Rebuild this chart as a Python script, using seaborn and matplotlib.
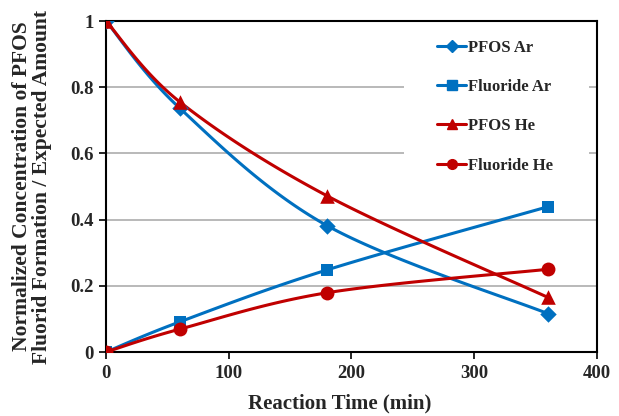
import numpy as np
import pandas as pd
import seaborn as sns
import matplotlib.pyplot as plt
from matplotlib.lines import Line2D
from matplotlib.patches import Rectangle
from matplotlib.ticker import FuncFormatter

# data
time_min = [0, 60, 180, 360]
pfos_ar = [1.0, 0.737, 0.382, 0.116]
fluoride_ar = [0.0, 0.091, 0.248, 0.439]
pfos_he = [1.0, 0.756, 0.472, 0.165]
fluoride_he = [0.0, 0.069, 0.179, 0.25]

series_names = ["PFOS Ar", "Fluoride Ar", "PFOS He", "Fluoride He"]
series_values = [pfos_ar, fluoride_ar, pfos_he, fluoride_he]

BLUE = "#0070C0"
RED = "#C00000"
colors = {"PFOS Ar": BLUE, "Fluoride Ar": BLUE, "PFOS He": RED, "Fluoride He": RED}
markers = {"PFOS Ar": "D", "Fluoride Ar": "s", "PFOS He": "^", "Fluoride He": "o"}
sizes = {"PFOS Ar": 70, "Fluoride Ar": 80, "PFOS He": 110, "Fluoride He": 100}


def smooth(xs, ys, n=40):
    # excel-like smoothed line (bezier through the points)
    pts = np.column_stack([xs, ys]).astype(float)
    p = np.vstack([pts[0], pts, pts[-1]])
    t = np.linspace(0, 1, n)[:, None]
    out = []
    for i in range(1, len(p) - 2):
        p0, p1, p2, p3 = p[i - 1], p[i], p[i + 1], p[i + 2]
        c1 = p1 + (p2 - p0) / 6
        c2 = p2 - (p3 - p1) / 6
        seg = (1 - t) ** 3 * p1 + 3 * (1 - t) ** 2 * t * c1 + 3 * (1 - t) * t ** 2 * c2 + t ** 3 * p2
        out.append(seg)
    return np.vstack(out)


points = pd.DataFrame({
    "Time": np.tile(time_min, len(series_names)),
    "Value": np.concatenate(series_values),
    "Series": np.repeat(series_names, len(time_min)),
})

curves = []
for name, vals in zip(series_names, series_values):
    c = smooth(time_min, vals)
    curves.append(pd.DataFrame({"Time": c[:, 0], "Value": c[:, 1], "Series": name}))
curves = pd.concat(curves, ignore_index=True)

sns.set_theme(style="white")
plt.rcParams["font.family"] = ["Liberation Serif", "DejaVu Serif"]
plt.rcParams["font.weight"] = "bold"

fig = plt.figure(figsize=(6.19, 4.16), dpi=100)
ax = fig.add_axes([0.1712, 0.1538, 0.7933, 0.7957])

sns.lineplot(data=curves, x="Time", y="Value", hue="Series", palette=colors,
             sort=False, estimator=None, linewidth=2.2, legend=False, ax=ax, zorder=3)
for name in series_names:
    sub = points[points["Series"] == name]
    sns.scatterplot(data=sub, x="Time", y="Value", color=colors[name], marker=markers[name],
                    s=sizes[name], linewidth=0, legend=False, ax=ax, zorder=4)

ax.set_xlim(0, 400)
ax.set_ylim(0, 1)
ax.set_xticks([0, 100, 200, 300, 400])
ax.set_yticks([0, 0.2, 0.4, 0.6, 0.8, 1.0])
ax.yaxis.set_major_formatter(FuncFormatter(lambda v, p: "%g" % v))
ax.grid(axis="y", color="#A6A6A6", linewidth=1.1)
ax.grid(axis="x", visible=False)
ax.set_axisbelow(True)
for sp in ax.spines.values():
    sp.set_color("black")
    sp.set_linewidth(1.5)
ax.tick_params(axis="both", which="major", direction="out", length=5, width=1.2,
               color="black", labelsize=13.5, pad=4, left=True, bottom=True)
for lab in ax.get_xticklabels() + ax.get_yticklabels():
    lab.set_fontweight("bold")

ax.set_xlabel("Reaction Time (min)", fontsize=15, fontweight="bold")
ax.xaxis.set_label_coords(0.4766, -0.125)
ax.set_ylabel("Normalized Concentration of PFOS\nFluorid Formation / Expected Amount",
              fontsize=15.5, fontweight="bold", linespacing=1.0)
ax.yaxis.set_label_coords(-0.11, 0.5)

# white legend box hiding gridlines
ax.add_patch(Rectangle((0.607, 0.505), 0.377, 0.486, transform=ax.transAxes,
                       facecolor="white", edgecolor="none", zorder=1.5))

handles = [Line2D([0], [0], color=colors[n], marker=markers[n], lw=2.2,
                  markersize=6 if markers[n] == "D" else 7, label=n) for n in series_names]
leg = ax.legend(handles=handles, loc="upper left", bbox_to_anchor=(0.674, 0.944),
                frameon=False, borderpad=0, borderaxespad=0, handlelength=1.75,
                handletextpad=0.1, labelspacing=1.4,
                prop={"family": "Liberation Serif", "weight": "bold", "size": 12})

fig.savefig("out.png", dpi=100)
